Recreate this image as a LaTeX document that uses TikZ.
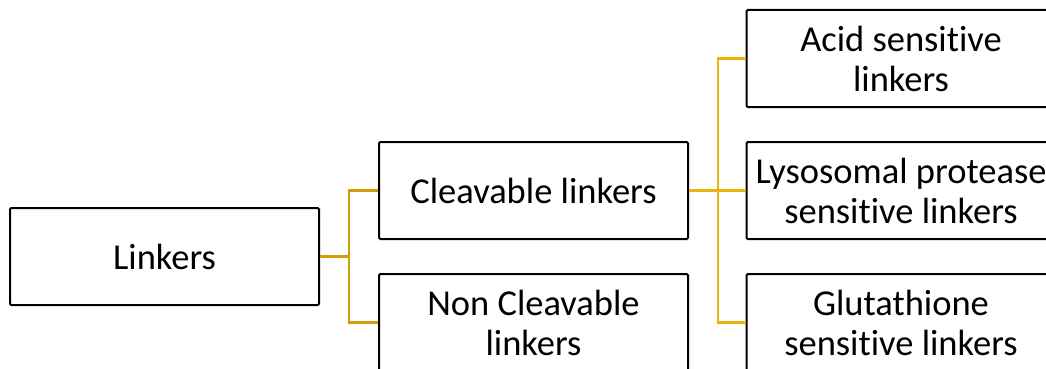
\documentclass[tikz,border=0pt]{standalone}
\usepackage{fontspec}
\setmainfont{Carlito}[Ligatures=NoCommon]
\definecolor{goldA}{RGB}{206,158,12}
\definecolor{goldB}{RGB}{234,180,14}
\begin{document}
\begin{tikzpicture}[x=1pt,y=-1pt,
  box/.style={draw=black, line width=2pt, rounded corners=1.2pt, fill=white,
    minimum width=309pt, minimum height=97pt, inner sep=0pt, align=center,
    font=\fontsize{36.5}{40}\selectfont},
  linkA/.style={draw=goldA, line width=2.6pt},
  stemA/.style={draw=goldA, line width=3.8pt},
  linkB/.style={draw=goldB, line width=2.6pt},
  stemB/.style={draw=goldB, line width=3.8pt}]
\useasboundingbox (0,0) rectangle (1046,369);
\clip (0,0) rectangle (1046,369);
\node[box] (linkers) at (164.5,256.5) {Linkers};
\node[box] (cleav) at (533.5,190.5) {Cleavable linkers};
\node[box] (noncl) at (533.5,322.5) {Non Cleavable\\linkers};
\node[box] (acid) at (901,58.5) {Acid sensitive\\linkers};
\node[box] (lyso) at (901,190.5) {Lysosomal protease\\sensitive linkers};
\node[box] (glut) at (901,322.5) {Glutathione\\sensitive linkers};
\coordinate (j1) at (349,256.5);
\coordinate (j2) at (718,190.5);
% first level
\draw[linkA] (cleav.west) -- (cleav.west -| j1) -- (noncl.west -| j1) -- (noncl.west);
\draw[stemA] (linkers.east) -- (j1);
% second level
\draw[linkB] (acid.west) -- (acid.west -| j2) -- (glut.west -| j2) -- (glut.west);
\draw[linkB] (j2) -- (lyso.west);
\draw[stemB] (cleav.east) -- (j2);
\end{tikzpicture}
\end{document}
